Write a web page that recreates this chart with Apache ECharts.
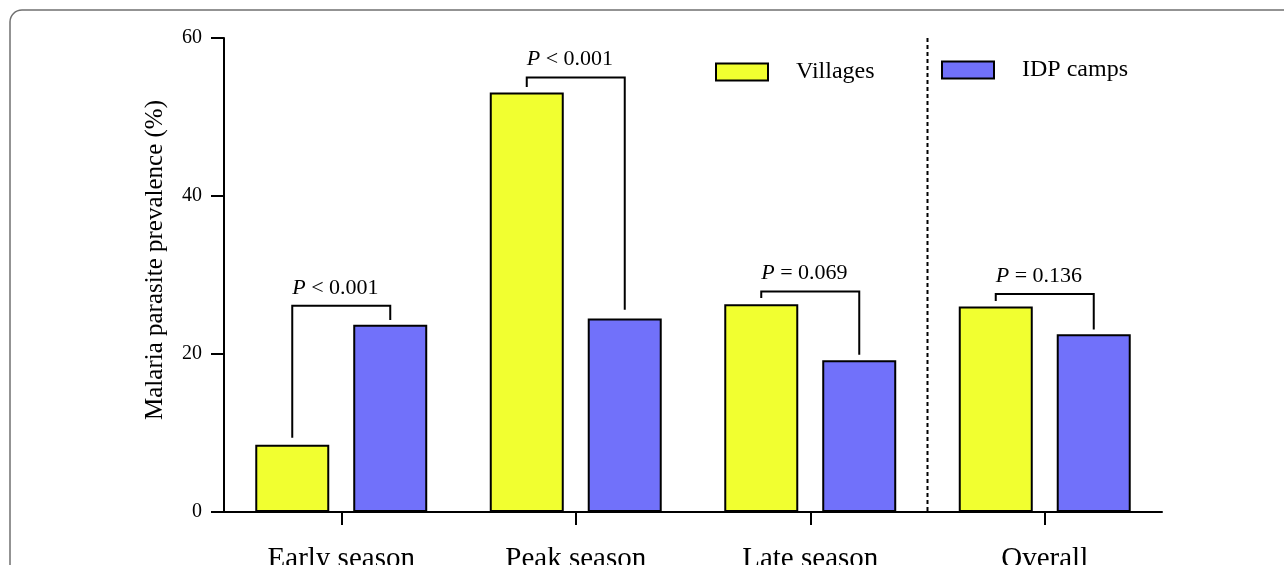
<!DOCTYPE html>
<html>
<head>
<meta charset="utf-8">
<script src="https://cdn.jsdelivr.net/npm/echarts@6/dist/echarts.min.js"></script>
<style>html,body{margin:0;padding:0;background:#fff}#chart{width:1284px;height:565px}</style>
</head>
<body>
<div id="chart"></div>
<script>
// ---- data ----
const categories = ['Early season', 'Peak season', 'Late season', 'Overall'];
const villages = [8.5, 53.1, 26.3, 26.0];
const idpCamps = [23.7, 24.5, 19.2, 22.5];
const yTicks = [0, 20, 40, 60];
const pLabels = ['< 0.001', '< 0.001', '= 0.069', '= 0.136'];
const bracketTop = [26.1, 55.0, 27.9, 27.6];
const leftLegEnd = [9.4, 53.8, 27.1, 26.7];
const rightLegEnd = [24.3, 25.6, 19.9, 23.1];
const dividerAfter = 2; // dotted divider between "Late season" and "Overall"

const FONT = 'Liberation Serif';
const YELLOW = '#F1FF30';
const BLUE = '#7171FA';

const chart = echarts.init(document.getElementById('chart'), null, {renderer: 'canvas'});

const bracketData = categories.map((c, i) => [i, bracketTop[i], leftLegEnd[i], rightLegEnd[i], pLabels[i]]);

const option = {
  backgroundColor: '#fff',
  animation: false,
  graphic: [{
    type: 'rect', silent: true,
    shape: {x: 10, y: 10, width: 1400, height: 700, r: 12},
    style: {fill: 'none', stroke: '#707070', lineWidth: 1.5}
  }],
  legend: [{
    data: ['Villages'], left: 715, top: 60, padding: 0,
    itemWidth: 52, itemHeight: 17, icon: 'rect',
    textStyle: {fontFamily: FONT, fontSize: 24, color: '#000', padding: [5, 0, 0, 23]}
  }, {
    data: ['IDP camps'], left: 941, top: 58, padding: 0,
    itemWidth: 52, itemHeight: 17, icon: 'rect',
    textStyle: {fontFamily: FONT, fontSize: 24, color: '#000', padding: [5, 0, 0, 23]}
  }],
  grid: {left: 224, right: 122, top: 38, bottom: 53, containLabel: false, outerBoundsMode: 'none'},
  xAxis: {
    type: 'category', data: categories,
    axisLine: {lineStyle: {color: '#000', width: 2}},
    axisTick: {show: true, alignWithLabel: true, length: 13, lineStyle: {color: '#000', width: 2}},
    axisLabel: {fontFamily: FONT, fontSize: 29, color: '#000', margin: 33}
  },
  yAxis: {
    type: 'value', min: yTicks[0], max: yTicks[yTicks.length - 1], interval: 20,
    name: 'Malaria parasite prevalence (%)', nameLocation: 'middle', nameGap: 56,
    nameTextStyle: {fontFamily: FONT, fontSize: 25, color: '#000', padding: [0, 0, 0, 30]},
    axisLine: {show: true, lineStyle: {color: '#000', width: 2}},
    axisTick: {show: true, inside: false, length: 13, lineStyle: {color: '#000', width: 2}},
    axisLabel: {fontFamily: FONT, fontSize: 20, color: '#000', margin: 22},
    splitLine: {show: false}
  },
  series: [{
    name: 'Villages', type: 'bar', data: villages, barWidth: 74, barGap: '32.4%',
    itemStyle: {color: YELLOW, borderColor: '#000', borderWidth: 2}
  }, {
    name: 'IDP camps', type: 'bar', data: idpCamps, barWidth: 74,
    itemStyle: {color: BLUE, borderColor: '#000', borderWidth: 2}
  }, {
    type: 'custom', name: 'brackets', data: bracketData, z: 5,
    renderItem: function (params, api) {
      const i = api.value(0);
      const cx = api.coord([i, 0])[0];
      const band = api.size([1, 0])[0];
      const off = band * 49 / 234.5;
      const xl = cx - off, xr = cx + off;
      const yt = api.coord([i, api.value(1)])[1];
      const yl = api.coord([i, api.value(2)])[1];
      const yr = api.coord([i, api.value(3)])[1];
      return {
        type: 'group',
        children: [{
          type: 'polyline',
          shape: {points: [[xl, yl], [xl, yt], [xr, yt], [xr, yr]]},
          style: {stroke: '#000', lineWidth: 2, fill: 'none'}
        }, {
          type: 'text',
          x: xl, y: yt - 18,
          style: {
            text: '{i|P} ' + bracketData[params.dataIndex][4],
            rich: {i: {fontStyle: 'italic', fontFamily: FONT, fontSize: 22, fill: '#000'}},
            fontFamily: FONT, fontSize: 22, fill: '#000',
            align: 'left', verticalAlign: 'middle'
          }
        }]
      };
    }
  }, {
    type: 'custom', name: 'divider', data: [[dividerAfter]], z: 5,
    renderItem: function (params, api) {
      const i = api.value(0);
      const band = api.size([1, 0])[0];
      const x = api.coord([i, 0])[0] + band / 2;
      const y0 = api.coord([i, yTicks[0]])[1];
      const y1 = api.coord([i, yTicks[yTicks.length - 1]])[1];
      return {
        type: 'line',
        shape: {x1: x, y1: y1, x2: x, y2: y0},
        style: {stroke: '#000', lineWidth: 2, lineDash: [4, 3]}
      };
    }
  }]
};
chart.setOption(option);
</script>
</body>
</html>
